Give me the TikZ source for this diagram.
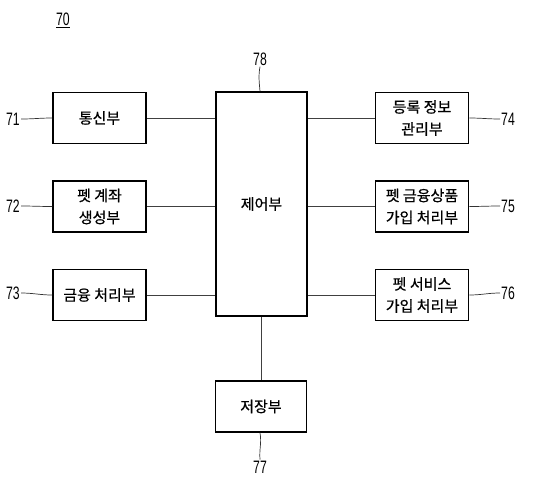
\documentclass[tikz,border=0pt]{standalone}
\usepackage{fontspec}
\usepackage{graphicx}
\setmainfont{Liberation Sans}
\newfontfamily\krfont[FakeBold=0.6]{Noto Sans CJK KR}
\usepackage{tikz}
\usetikzlibrary{positioning,calc}
\tikzset{
  blk/unit/.style={draw, line width=1.5pt, minimum width=93pt, minimum height=51pt, inner sep=2pt, align=center, font=\krfont\fontsize{15}{22}\selectfont},
  blk/ctrl/.style={blk/unit, minimum width=91pt, minimum height=224pt},
  blk/line/.style={line width=1pt, black!75},
  blk/lead/.style={line width=0.7pt, black!80},
  blk/ref/.style={inner sep=1pt, font=\fontsize{18}{18}\selectfont}
}
\newcommand{\refnum}[1]{\scalebox{0.68}[1]{#1}}

\begin{document}
\begin{tikzpicture}[x=1pt,y=-1pt]
  \useasboundingbox (0,0) rectangle (534,491);
  \node[blk/ref] (r70) at (63,20) {\underline{\refnum{70}}};

  \node[blk/ctrl] (ctrl) at (261.5,204) {제어부};
  \node[blk/unit] (comm) at (99.5,118) {통신부};
  \node[blk/unit, below=36pt of comm] (acct) {펫 계좌\\생성부};
  \node[blk/unit, below=36pt of acct] (fin) {금융 처리부};
  \node[blk/unit] (reg) at (422,118) {등록 정보\\관리부};
  \node[blk/unit, below=36pt of reg] (prod) {펫 금융상품\\가입 처리부};
  \node[blk/unit, below=36pt of prod] (serv) {펫 서비스\\가입 처리부};
  \node[blk/unit, minimum width=91pt] (store) at (261,406.5) {저장부};

  \draw[blk/line] (comm) -- (comm -| ctrl.west);
  \draw[blk/line] (acct) -- (acct -| ctrl.west);
  \draw[blk/line] (fin) -- (fin -| ctrl.west);
  \draw[blk/line] (reg) -- (reg -| ctrl.east);
  \draw[blk/line] (prod) -- (prod -| ctrl.east);
  \draw[blk/line] (serv) -- (serv -| ctrl.east);
  \draw[blk/line] (ctrl.south -| store) -- (store);

  % reference numerals
  \node[blk/ref] (r71) at (13,119) {\refnum{71}};
  \node[blk/ref] (r72) at (13,206) {\refnum{72}};
  \node[blk/ref] (r73) at (13,293) {\refnum{73}};
  \node[blk/ref] (r74) at (508,119) {\refnum{74}};
  \node[blk/ref] (r75) at (508,206) {\refnum{75}};
  \node[blk/ref] (r76) at (508,293) {\refnum{76}};
  \node[blk/ref] (r78) at (260,59) {\refnum{78}};
  \node[blk/ref] (r77) at (260,467) {\refnum{77}};

  \draw[blk/lead] (r71.east) to[out=0,in=180] (comm.west);
  \draw[blk/lead] (r72.east) to[out=0,in=180] (acct.west);
  \draw[blk/lead] (r73.east) to[out=0,in=180] (fin.west);
  \draw[blk/lead] (r74.west) to[out=180,in=0] (reg.east);
  \draw[blk/lead] (r75.west) to[out=180,in=0] (prod.east);
  \draw[blk/lead] (r76.west) to[out=180,in=0] (serv.east);
  \draw[blk/lead] (r78.south) to[out=-100,in=95] (r78 |- ctrl.north);
  \draw[blk/lead] (r77.north) to[out=95,in=-80] (r77 |- store.south);
\end{tikzpicture}
\end{document}
